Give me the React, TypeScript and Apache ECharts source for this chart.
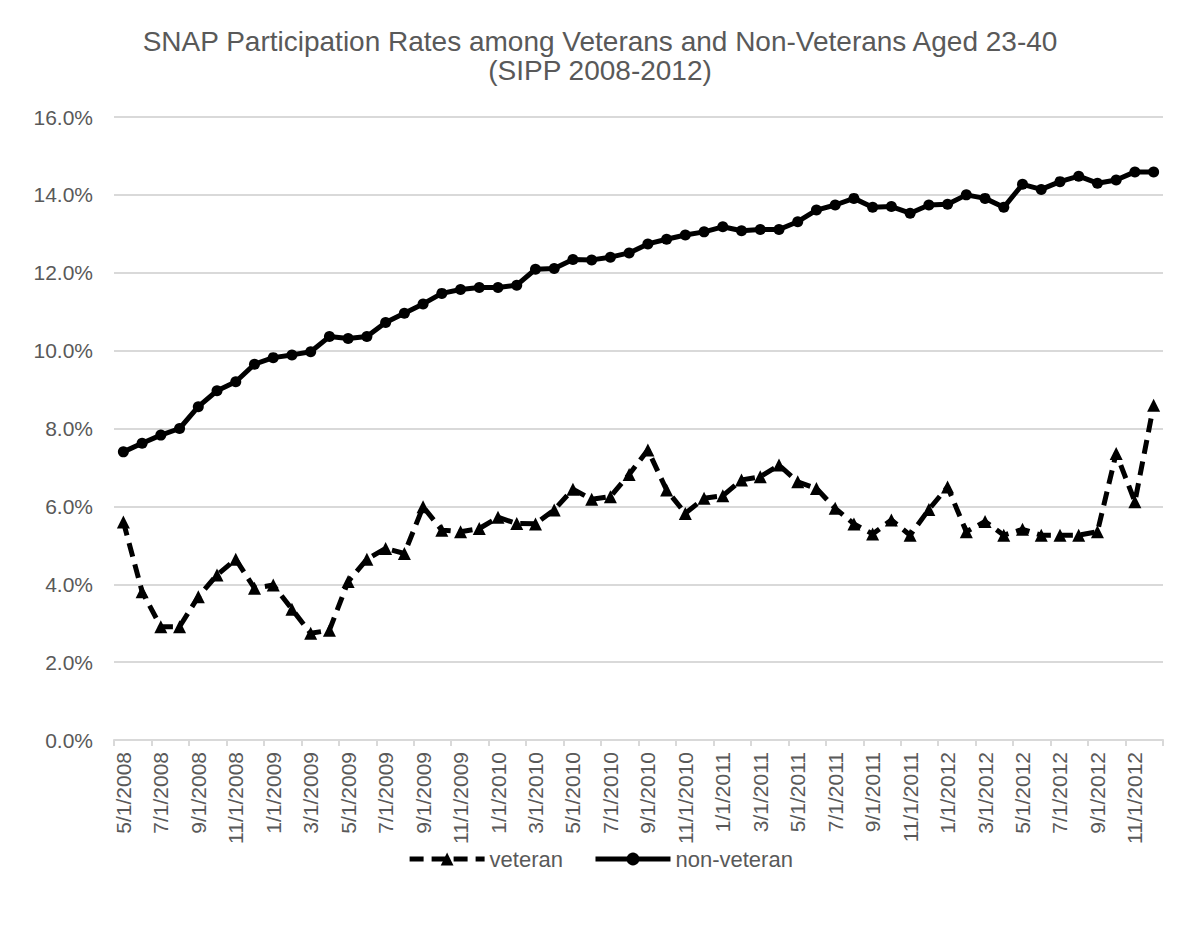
import React, { useEffect, useRef } from "react";
import * as echarts from "echarts";

const months: string[] = [];
{
  // categories: monthly from 5/1/2008 to 12/1/2012
  let m = 5;
  let y = 2008;
  for (let i = 0; i < 56; i++) {
    months.push(`${m}/1/${y}`);
    m++;
    if (m > 12) {
      m = 1;
      y++;
    }
  }
}

const veteran: number[] = [
  5.6, 3.81, 2.91, 2.91, 3.68, 4.24, 4.64, 3.9, 3.98, 3.36,
  2.74, 2.82, 4.07, 4.64, 4.92, 4.79, 5.99, 5.39, 5.35, 5.43,
  5.72, 5.56, 5.55, 5.91, 6.44, 6.18, 6.25, 6.82, 7.45, 6.42,
  5.82, 6.21, 6.27, 6.68, 6.76, 7.06, 6.63, 6.46, 5.95, 5.55,
  5.29, 5.65, 5.26, 5.92, 6.5, 5.35, 5.61, 5.26, 5.41, 5.26,
  5.26, 5.26, 5.35, 7.36, 6.12, 8.6,
];

const nonVeteran: number[] = [
  7.4, 7.62, 7.83, 8.0, 8.56, 8.97, 9.2, 9.65, 9.82, 9.89,
  9.97, 10.36, 10.31, 10.36, 10.72, 10.96, 11.2, 11.47, 11.57, 11.62,
  11.62, 11.68, 12.09, 12.11, 12.34, 12.33, 12.4, 12.51, 12.74, 12.86,
  12.97, 13.05, 13.18, 13.08, 13.11, 13.11, 13.31, 13.61, 13.74, 13.91,
  13.68, 13.7, 13.53, 13.74, 13.76, 14.0, 13.91, 13.68, 14.27, 14.14,
  14.34, 14.48, 14.3, 14.38, 14.59, 14.59,
];

const titleLines: string[] = [
  "SNAP Participation Rates among Veterans and Non-Veterans Aged 23-40",
  "(SIPP 2008-2012)",
];

const FONT = '"Liberation Sans", Arial, sans-serif';
const GREY = "#595959";

export default function App() {
  const ref = useRef<HTMLDivElement>(null);
  useEffect(() => {
    if (!ref.current) return;
    const chart = echarts.init(ref.current, null, { renderer: "svg" });
    chart.setOption({
      animation: false,
      backgroundColor: "#ffffff",
      textStyle: { fontFamily: FONT },
      title: titleLines.map((t, i) => ({
        text: t,
        left: "center",
        top: 26 + i * 29,
        padding: 0,
        textStyle: {
          fontFamily: FONT,
          fontSize: 28,
          fontWeight: "normal",
          color: GREY,
          lineHeight: 30,
        },
      })),
      legend: {
        bottom: 62,
        left: "center",
        itemWidth: 75,
        itemHeight: 16,
        itemGap: 30,
        lineStyle: { width: 5 },
        textStyle: { fontFamily: FONT, fontSize: 22, color: GREY },
        data: ["veteran", "non-veteran"],
      },
      grid: { left: 114, right: 37, top: 117, bottom: 197 },
      xAxis: {
        type: "category",
        data: months,
        boundaryGap: true,
        axisLine: { lineStyle: { color: "#d9d9d9", width: 2 } },
        axisTick: {
          show: true,
          interval: 1,
          length: 6,
          lineStyle: { color: "#d9d9d9", width: 2 },
        },
        axisLabel: {
          interval: 1,
          rotate: 90,
          margin: 12,
          fontFamily: FONT,
          fontSize: 21,
          color: GREY,
        },
      },
      yAxis: {
        type: "value",
        min: 0,
        max: 16,
        interval: 2,
        axisLine: { show: false },
        axisTick: { show: false },
        splitLine: { lineStyle: { color: "#d9d9d9", width: 2 } },
        axisLabel: {
          margin: 21,
          fontFamily: FONT,
          fontSize: 21,
          color: GREY,
          formatter: (v: number) => v.toFixed(1) + "%",
        },
      },
      series: [
        {
          name: "veteran",
          type: "line",
          data: veteran,
          symbol: "triangle",
          symbolSize: 13,
          showAllSymbol: true,
          itemStyle: { color: "#000000" },
          lineStyle: { color: "#000000", width: 5, type: [14, 8] },
          z: 3,
        },
        {
          name: "non-veteran",
          type: "line",
          data: nonVeteran,
          symbol: "circle",
          symbolSize: 11,
          showAllSymbol: true,
          itemStyle: { color: "#000000" },
          lineStyle: { color: "#000000", width: 5, type: "solid" },
          z: 4,
        },
      ],
    });
    return () => chart.dispose();
  }, []);
  return (
    <div
      ref={ref}
      style={{ position: "fixed", left: 0, top: 0, width: 1200, height: 937 }}
    />
  );
}
